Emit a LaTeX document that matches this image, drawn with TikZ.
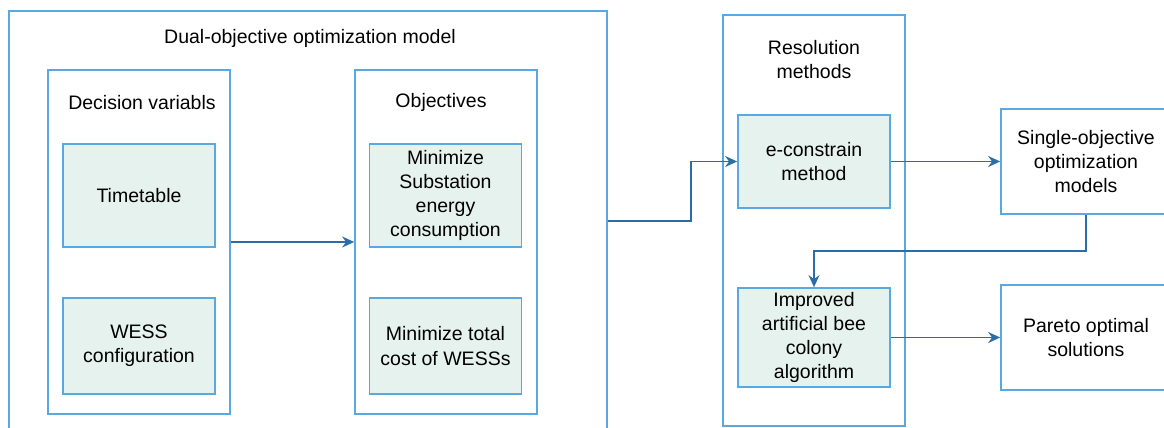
\documentclass[tikz,border=0pt]{standalone}
\usepackage{fontspec}
\setmainfont{Liberation Sans}
\usetikzlibrary{arrows.meta}
\definecolor{boxblue}{HTML}{5AA8E2}
\definecolor{itemfill}{HTML}{E6F2EE}
\definecolor{linkblue}{HTML}{2A6DA8}
\tikzset{
	every node/.style={font=\fontsize{19.5}{24.3}\selectfont, align=center},
	group/.style={draw=boxblue, line width=1.7pt, inner sep=0pt},
	item/.style={draw=boxblue, fill=itemfill, line width=1.7pt, inner sep=0pt},
	result/.style={draw=boxblue, fill=white, line width=1.7pt, inner sep=0pt},
	link/.style={-{Stealth[length=12pt, width=11pt]}, draw=linkblue, line width=1.6pt}
}

\begin{document}
\begin{tikzpicture}[x=1pt, y=-1pt]
	\useasboundingbox (0,0) rectangle (1164,428);
	\clip (0,0) rectangle (1164,428);
	% model
	\node[group, minimum width=598, minimum height=434] (dual) at (308,228) {};
	\node (dualtitle) at (310,38) {Dual-objective optimization model};
	\node[group, minimum width=182, minimum height=344] (dec) at (139,242) {};
	\node (dectitle) at (142,103) {Decision variabls};
	\node[group, minimum width=182, minimum height=344] (obj) at (446,242) {};
	\node (objtitle) at (441,102) {Objectives};
	\foreach \x/\name in {139/dec, 445.5/obj} {
		\node[item, minimum width=152, minimum height=103] (\name top) at (\x,195.5) {};
		\node[item, minimum width=152, minimum height=96] (\name bot) at (\x,346) {};
	}
	\node at (dectop) {Timetable};
	\node at (decbot) {WESS\\configuration};
	\node at (objtop) {Minimize\\Substation\\energy\\consumption};
	\node at (objbot) {Minimize total\\cost of WESSs};
	% resolution
	\node[group, minimum width=182, minimum height=411] (res) at (814,220.5) {};
	\node (restitle) at (814,59.5) {Resolution\\methods};
	\node[item, minimum width=152, minimum height=93] (econ) at (814,161.5) {e-constrain\\method};
	\node[item, minimum width=152, minimum height=99] (abc) at (814,337.5) {Improved\\artificial bee\\colony\\algorithm};
	\node[result, minimum width=170, minimum height=105] (single) at (1086,161.5) {Single-objective\\optimization\\models};
	\node[result, minimum width=170, minimum height=105] (pareto) at (1086,337.5) {Pareto optimal\\solutions};
	% links
	\draw[link] (dec.east) -- (obj.west);
	\draw[link] ([yshift=7pt]dual.east) -- ++(83,0) |- (econ.west);
	\draw[link] (econ.east) -- (single.west);
	\draw[link] (single.south) -- ++(0,36) -| (abc.north);
	\draw[link] (abc.east) -- (pareto.west);
\end{tikzpicture}
\end{document}
